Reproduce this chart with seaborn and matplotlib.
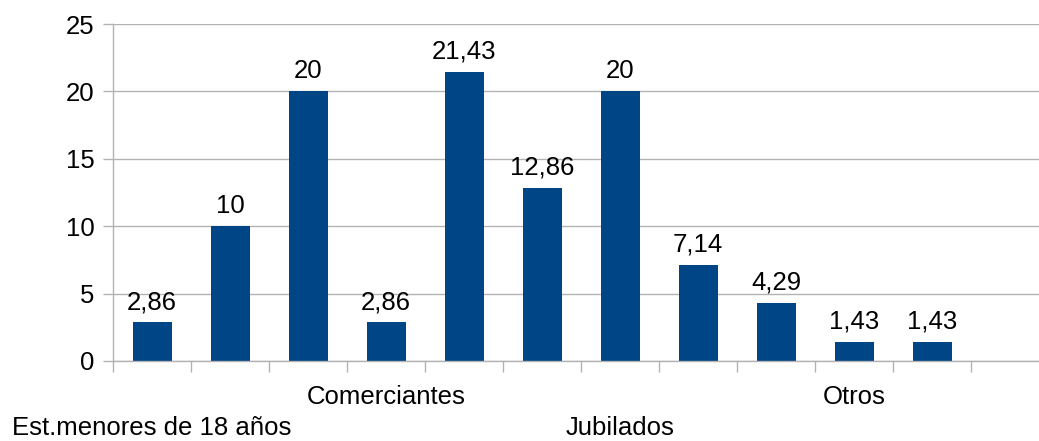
import pandas as pd
import matplotlib
matplotlib.use("Agg")
import matplotlib.pyplot as plt
import seaborn as sns

# categorías (solo algunas etiquetas visibles en el original)
categorias = ["Est.menores de 18 años", "c2", "c3", "Comerciantes", "c5", "c6",
              "Jubilados", "c8", "c9", "Otros", "c11"]
etiquetas = ["\nEst.menores de 18 años", "", "", "Comerciantes", "", "",
             "\nJubilados", "", "", "Otros", ""]
valores = [2.86, 10, 20, 2.86, 21.43, 12.86, 20, 7.14, 4.29, 1.43, 1.43]
yticks = [0, 5, 10, 15, 20, 25]

AZUL = "#004586"
GRIS = "#b3b3b3"
FS = 18.5

plt.rcParams["font.family"] = ["Liberation Sans", "DejaVu Sans"]

df = pd.DataFrame({"cat": categorias, "valor": valores})

fig = plt.figure(figsize=(10.39, 4.41), dpi=100)
ax = fig.add_axes([113 / 1039, 80 / 441, 936 / 1039, 337 / 441])

sns.barplot(data=df, x="cat", y="valor", order=categorias, color=AZUL,
            width=0.5, saturation=1, ax=ax)

def fmt(v):
    s = f"{v:.2f}".rstrip("0").rstrip(".")
    return s.replace(".", ",")

ax.bar_label(ax.containers[0], labels=[fmt(v) for v in valores],
             padding=6, fontsize=FS)

ax.set_xlim(-0.5, 11.5)
ax.set_ylim(0, 25)
ax.set_yticks(yticks)
ax.set_yticklabels([str(t) for t in yticks], fontsize=FS)
ax.yaxis.grid(True, color=GRIS, linewidth=1)
ax.set_axisbelow(True)

ax.set_xticks(range(len(categorias)))
ax.set_xticklabels(etiquetas, fontsize=FS)
for t in ax.get_xticklabels():
    t.set_linespacing(1.4)
ax.set_xticks([i - 0.5 for i in range(len(categorias) + 2)], minor=True)
ax.tick_params(axis="x", which="major", length=0, pad=17)
ax.tick_params(axis="x", which="minor", length=8, color=GRIS, width=1)
ax.tick_params(axis="y", length=7.5, color=GRIS, width=1, pad=6)

for s in ["top", "right"]:
    ax.spines[s].set_visible(False)
for s in ["left", "bottom"]:
    ax.spines[s].set_color(GRIS)
    ax.spines[s].set_linewidth(1)

ax.set_xlabel("")
ax.set_ylabel("")

fig.savefig("out.png", dpi=100)
